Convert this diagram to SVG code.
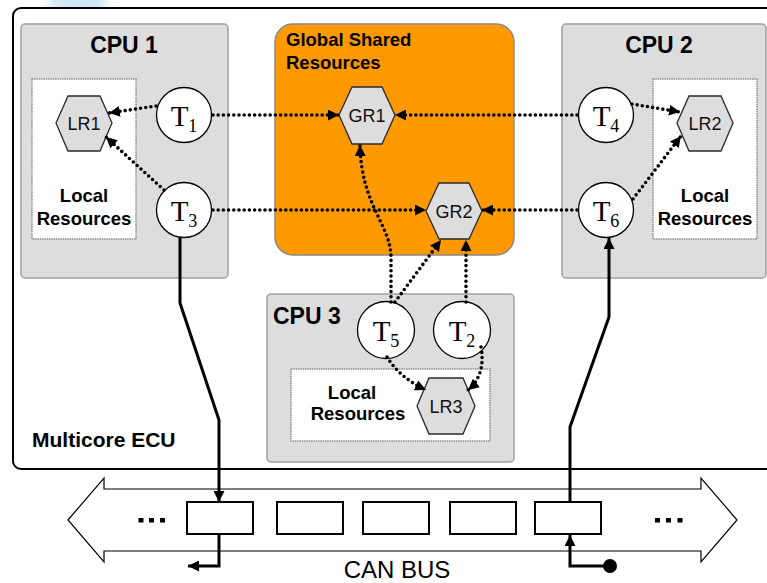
<svg xmlns="http://www.w3.org/2000/svg" width="767" height="583" viewBox="0 0 767 583">
  <style>
    .cpu { fill: #dddddd; stroke: #a0a0a0; stroke-width: 1.5; }
    .local { fill: #ffffff; stroke: #8f8f8f; stroke-width: 1.5; stroke-dasharray: 1.5 0.8; }
    .hex { fill: #dddddd; stroke: #2a2a2a; stroke-width: 1.3; }
    .task { fill: #ffffff; stroke: #000000; stroke-width: 1.3; }
    .title { font-family: "Liberation Sans", Arial, sans-serif; font-weight: bold; font-size: 23px; fill: #000; }
    .sub { font-family: "Liberation Sans", Arial, sans-serif; font-weight: bold; font-size: 18.5px; fill: #000; }
    .res { font-family: "Liberation Sans", Arial, sans-serif; font-size: 18px; fill: #111; text-anchor: middle; }
    .tl { font-family: "Liberation Serif", "Times New Roman", serif; font-size: 29px; fill: #000; text-anchor: middle; }
    .dot { fill: none; stroke: #000; stroke-width: 3.6; stroke-linecap: round; stroke-dasharray: 0 5.2; marker-end: url(#head); }
    .wire { fill: none; stroke: #000; stroke-width: 3; stroke-linejoin: miter; }
    .frame { fill: #ffffff; stroke: #000; stroke-width: 2; }
  </style>
  <defs>
    <marker id="head" markerUnits="userSpaceOnUse" viewBox="0 0 10 10" refX="10" refY="5" markerWidth="11" markerHeight="11" orient="auto">
      <path d="M0,0 L10,5 L0,10 z" fill="#000"/>
    </marker>
    <filter id="soft" x="-50%" y="-50%" width="200%" height="200%">
      <feGaussianBlur stdDeviation="5"/>
    </filter>
  </defs>

  <rect width="767" height="583" fill="#ffffff"/>
  <ellipse cx="78" cy="2" rx="30" ry="13" fill="#cfe6f6" filter="url(#soft)"/>

  <!-- ECU enclosure -->
  <g id="ecu">
    <rect x="13" y="8" width="770" height="461" rx="8" fill="#ffffff" stroke="#000" stroke-width="2"/>
    <text class="title" x="32" y="447" style="font-size:21px">Multicore ECU</text>
  </g>

  <!-- CPU 1 -->
  <g id="cpu1">
    <rect class="cpu" x="21" y="24" width="207" height="254" rx="4"/>
    <text class="title" x="124" y="53" text-anchor="middle">CPU 1</text>
    <rect class="local" x="32" y="79" width="104" height="160"/>
    <text class="sub" x="84" y="202" text-anchor="middle">Local</text>
    <text class="sub" x="84" y="225" text-anchor="middle">Resources</text>
  </g>

  <!-- CPU 2 -->
  <g id="cpu2">
    <rect class="cpu" x="562" y="24" width="204" height="254" rx="4"/>
    <text class="title" x="659" y="53" text-anchor="middle">CPU 2</text>
    <rect class="local" x="653" y="79" width="104" height="160"/>
    <text class="sub" x="705" y="202" text-anchor="middle">Local</text>
    <text class="sub" x="705" y="225" text-anchor="middle">Resources</text>
  </g>

  <!-- Global shared resources -->
  <g id="global">
    <rect x="275" y="24" width="239" height="231" rx="18" fill="#ff9900" stroke="#8a8a8a" stroke-width="1.5"/>
    <text class="sub" x="286" y="46">Global Shared</text>
    <text class="sub" x="286" y="69">Resources</text>
  </g>

  <!-- CPU 3 -->
  <g id="cpu3">
    <rect class="cpu" x="267" y="294" width="247" height="168" rx="4"/>
    <text class="title" x="273" y="324">CPU 3</text>
    <rect class="local" x="291" y="369" width="199" height="72"/>
    <text class="sub" x="352" y="399" text-anchor="middle">Local</text>
    <text class="sub" x="358" y="420" text-anchor="middle">Resources</text>
  </g>

  <!-- Resources -->
  <g id="lr1">
    <polygon class="hex" points="56,123 68,96 100,96 112,123 100,151 68,151"/>
    <text class="res" x="84" y="130">LR1</text>
  </g>
  <g id="lr2">
    <polygon class="hex" points="677,123 689,96 721,96 733,123 721,151 689,151"/>
    <text class="res" x="705" y="130">LR2</text>
  </g>
  <g id="lr3">
    <polygon class="hex" points="417,406 429,378 463,378 475,406 463,434 429,434"/>
    <text class="res" x="446" y="413">LR3</text>
  </g>
  <g id="gr1">
    <polygon class="hex" points="339,115 352,87 382,87 395,115 382,144 352,144"/>
    <text class="res" x="367" y="122">GR1</text>
  </g>
  <g id="gr2">
    <polygon class="hex" points="426,211 439,183 469,183 482,211 469,239 439,239"/>
    <text class="res" x="454" y="218">GR2</text>
  </g>

  <!-- Tasks -->
  <g id="t1">
    <circle class="task" cx="184" cy="115" r="27.5"/>
    <text class="tl" x="184" y="126">T<tspan font-size="18" dy="6">1</tspan></text>
  </g>
  <g id="t3">
    <circle class="task" cx="184" cy="210" r="27.5"/>
    <text class="tl" x="184" y="221">T<tspan font-size="18" dy="6">3</tspan></text>
  </g>
  <g id="t4">
    <circle class="task" cx="606" cy="115" r="27.5"/>
    <text class="tl" x="606" y="126">T<tspan font-size="18" dy="6">4</tspan></text>
  </g>
  <g id="t6">
    <circle class="task" cx="606" cy="210" r="27.5"/>
    <text class="tl" x="606" y="221">T<tspan font-size="18" dy="6">6</tspan></text>
  </g>
  <g id="t5">
    <circle class="task" cx="386" cy="330" r="28.5"/>
    <text class="tl" x="386" y="341">T<tspan font-size="18" dy="6">5</tspan></text>
  </g>
  <g id="t2">
    <circle class="task" cx="462" cy="330" r="28.5"/>
    <text class="tl" x="462" y="341">T<tspan font-size="18" dy="6">2</tspan></text>
  </g>

  <!-- CAN bus -->
  <g id="canbus">
    <polygon points="68,520 104,478 104,489 701,489 701,478 737,520 701,562 701,551 104,551 104,562" fill="#ffffff" stroke="#000" stroke-width="1.2"/>
    <rect class="frame" x="187" y="502" width="66" height="32"/>
    <rect class="frame" x="277" y="502" width="66" height="32"/>
    <rect class="frame" x="363" y="502" width="66" height="32"/>
    <rect class="frame" x="450" y="502" width="66" height="32"/>
    <rect class="frame" x="535" y="502" width="66" height="32"/>
    <g fill="#000">
      <rect x="138.5" y="518" width="5" height="4.5"/>
      <rect x="149" y="518" width="5" height="4.5"/>
      <rect x="160" y="518" width="5" height="4.5"/>
      <rect x="655" y="518" width="5" height="4.5"/>
      <rect x="666" y="518" width="5" height="4.5"/>
      <rect x="677.5" y="518" width="5" height="4.5"/>
    </g>
    <text x="397" y="578" text-anchor="middle" font-family="Liberation Sans, Arial, sans-serif" font-size="24" fill="#000">CAN BUS</text>
  </g>

  <!-- Connectors -->
  <g id="connectors">
    <path class="dot" d="M156,106 L109,113"/>
    <path class="dot" d="M164,190 L106,137"/>
    <path class="dot" d="M213,115 L339,115"/>
    <path class="dot" d="M213,210 L426,210"/>
    <path class="dot" d="M577,115 L395,115"/>
    <path class="dot" d="M577,210 L482,210"/>
    <path class="dot" d="M632,104 L680,112"/>
    <path class="dot" d="M633,199 L681,136"/>
    <path class="dot" d="M391,302 V258 C391,225 361,205 360,145"/>
    <path class="dot" d="M395,302 L441,240"/>
    <path class="dot" d="M466,302 L466,240"/>
    <path class="dot" d="M387,357 Q400,378 426,390"/>
    <path class="dot" d="M481,347 Q486,375 468,390"/>

    <path class="wire" d="M180,238 V303 L219,420 V502" marker-end="url(#head)"/>
    <path class="wire" d="M219,534 V566 H188" marker-end="url(#head)"/>
    <path class="wire" d="M570,502 V427 L609,317 V238" marker-end="url(#head)"/>
    <path class="wire" d="M604,566 H570 V535" marker-end="url(#head)"/>
    <circle cx="610" cy="566" r="7" fill="#000"/>
  </g>
</svg>
